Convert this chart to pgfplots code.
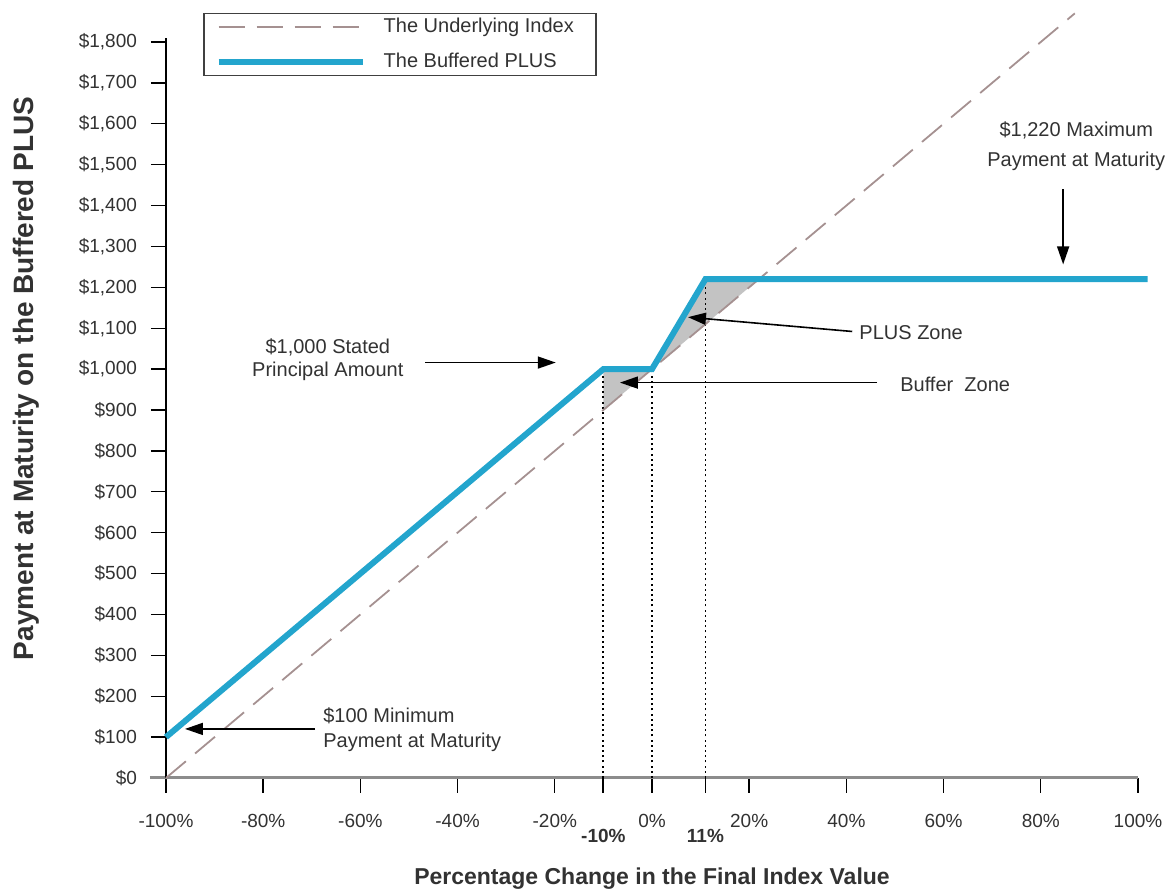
\documentclass[border=0pt]{standalone}
\usepackage{fontspec}
\setmainfont{Liberation Sans}
\usepackage{pgfplots}
\pgfplotsset{compat=1.18}
\usetikzlibrary{arrows.meta}
\definecolor{plusblue}{RGB}{35,165,205}
\definecolor{idxgray}{RGB}{165,145,145}
\definecolor{zonegray}{RGB}{195,195,195}
\definecolor{txt}{RGB}{50,50,50}

\begin{document}
\begin{tikzpicture}
\begin{axis}[
  scale only axis, width=486pt, height=368pt,
  xmin=-100, xmax=100, ymin=0, ymax=1800,
  clip=false,
  axis x line*=bottom, axis y line*=left,
  axis line style={draw=none},
  xtick={-100,-80,...,100},
  xticklabels={-100\%,-80\%,-60\%,-40\%,-20\%,0\%,20\%,40\%,60\%,80\%,100\%},
  ytick={0,100,...,1800},
  yticklabel={\$\pgfmathprintnumber{\tick}},
  /pgf/number format/1000 sep={,},
  /pgf/number format/assume math mode=true,
  tick align=outside, major tick length=7.5pt,
  tick style={black, line width=0.7pt},
  ticklabel style={font=\fontsize{9.5}{11}\selectfont, text=txt},
  x tick label style={yshift=-7pt},
  y tick label style={xshift=-3.5pt},
  extra x ticks={-10,11},
  extra x tick labels={\textbf{-10\%},\textbf{11\%}},
  extra x tick style={tick label style={yshift=-7.5pt}},
  xlabel={Percentage Change in the Final Index Value},
  xlabel style={at={(axis cs:0,-245)}, anchor=center, font=\bfseries\fontsize{11.5}{13}\selectfont, text=txt},
  ylabel={Payment at Maturity on the Buffered PLUS},
  ylabel style={at={(axis cs:-128.8,977)}, anchor=center, font=\bfseries\fontsize{14}{16}\selectfont, text=txt},
  legend style={at={(axis cs:-92.4,1872)}, anchor=north west, draw=black!75, line width=0.8pt,
    font=\fontsize{10}{12}\selectfont, text=txt, cells={anchor=west},
    inner xsep=6pt, inner ysep=0.5pt, row sep=4.5pt},
  legend image code/.code={\draw[#1] (0pt,0pt) -- (72pt,0pt); \path (79pt,0pt);},
]
% axis lines drawn by hand
\draw[black!45, line width=1.5pt] (axis cs:-103.3,0) -- (axis cs:100,0);
\draw[black, line width=0.8pt] (axis cs:-100,0) -- (axis cs:-100,1810);
\coordinate (o) at (axis cs:-100,0);
% tick marks at -10% and 11%
\draw[black, line width=0.9pt] (axis cs:-10,0) ++(0pt,1pt) -- ++(0pt,-8.5pt);
\draw[black, line width=0.9pt] (axis cs:11,0) ++(0pt,1pt) -- ++(0pt,-8.5pt);

% zones
\addplot[fill=zonegray, draw=none, forget plot] coordinates {(-10,900) (-10,1000) (0,1000)} -- cycle;
\addplot[fill=zonegray, draw=none, forget plot] coordinates {(0,1000) (11,1220) (22,1220)} -- cycle;

% dotted guides
\tikzset{guide/.style={black, line width=0.9pt, dash pattern=on 1pt off 1.6pt}}
\addplot[guide, forget plot] coordinates {(-10,0) (-10,1000)};
\addplot[guide, forget plot] coordinates {(0,0) (0,1000)};
\addplot[guide, forget plot] coordinates {(11,0) (11,1220)};

\addplot[idxgray, line width=0.9pt, dash pattern=on 13pt off 6pt] coordinates {(-100,0) (87,1870)};
\addplot[plusblue, line width=3pt] coordinates {(-100,100) (-10,1000) (0,1000) (11,1220) (102,1220)};
\legend{The Underlying Index\hspace*{3pt}, The Buffered PLUS}

% annotations
\tikzset{ann/.style={black, line width=0.8pt, -{Triangle[length=9pt,width=6pt]}}}
\draw[ann] (axis cs:84.6,1440) -- (axis cs:84.6,1256);
\node[align=center, font=\fontsize{10}{15}\selectfont, text=txt] at (axis cs:87.3,1545) {\$1,220 Maximum\\Payment at Maturity};

\draw[ann] (axis cs:41.2,1092) -- (axis cs:7.4,1127);
\node[anchor=west, inner sep=1pt, font=\fontsize{10}{12}\selectfont, text=txt] at (axis cs:42.2,1090) {PLUS Zone};

\draw[ann] (axis cs:46.3,967) -- (axis cs:-6.6,967);
\node[anchor=west, inner sep=1pt, font=\fontsize{10}{12}\selectfont, text=txt] at (axis cs:50.6,962) {Buffer\ \ Zone};

\draw[ann] (axis cs:-46.7,1016) -- (axis cs:-19.8,1016);
\node[align=center, font=\fontsize{10}{11.5}\selectfont, text=txt] at (axis cs:-66.7,1022) {\$1,000 Stated\\Principal Amount};

\draw[ann] (axis cs:-69.3,120) -- (axis cs:-96.1,120);
\node[anchor=west, align=left, inner sep=0pt, font=\fontsize{10}{12.5}\selectfont, text=txt] at (axis cs:-67.7,118) {\$100 Minimum\\Payment at Maturity};
\end{axis}
\path (o) ++(-83pt,-58pt) rectangle ++(587.5pt,447pt);
\end{tikzpicture}
\end{document}
